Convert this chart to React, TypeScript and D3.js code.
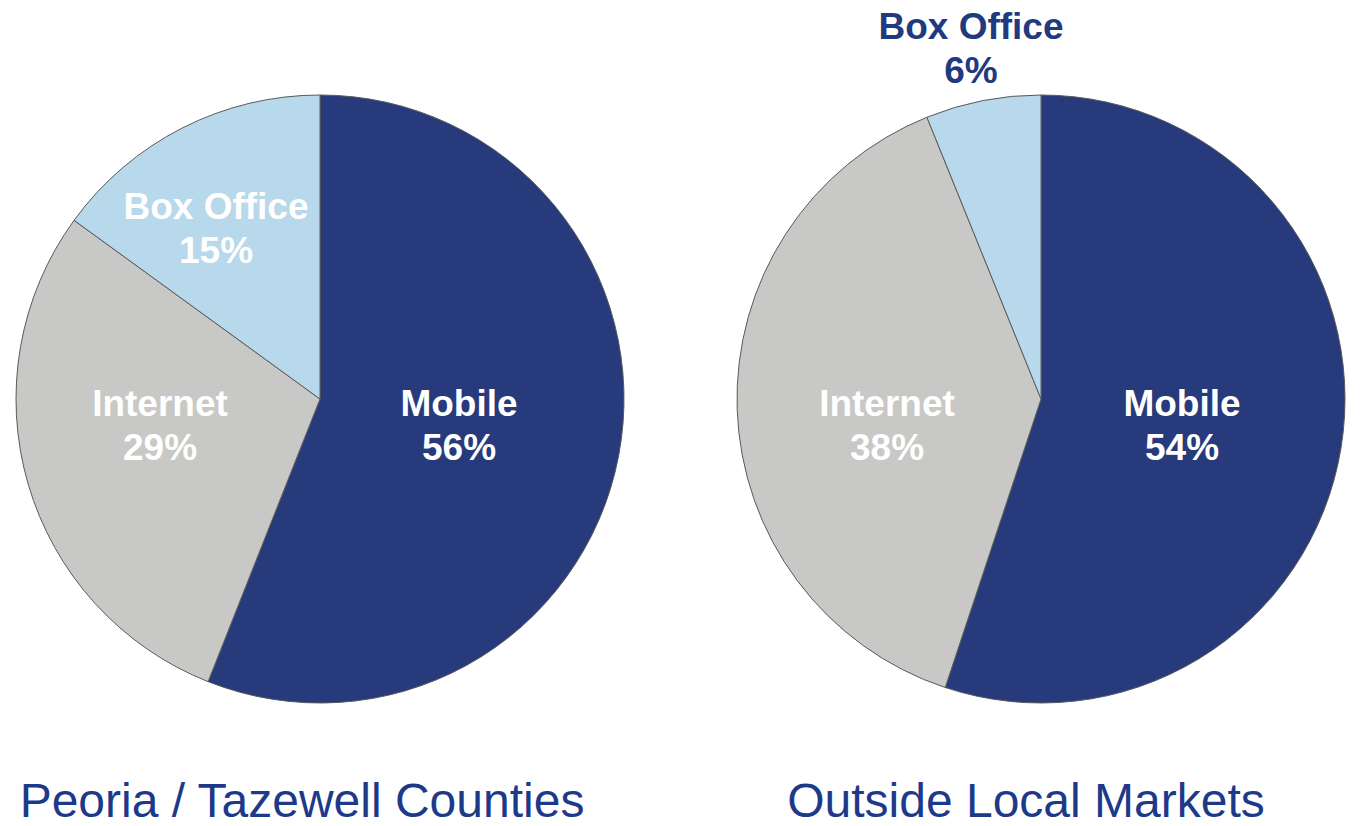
import React from "react";
import * as d3 from "d3";

const categories = ["Mobile", "Internet", "Box Office"];
const localValues = [56, 29, 15];
const outsideValues = [54, 38, 6];
const chartTitles = ["Peoria / Tazewell Counties", "Outside Local Markets"];

const COLORS: Record<string, string> = {
  Mobile: "#263a7c",
  Internet: "#c8c8c6",
  "Box Office": "#b8d8eb",
};

// label layout (relative to pie centre), and label colour
const LABEL_LAYOUT: Record<string, { dx: number; dy: number; fill: string }>[] = [
  {
    Mobile: { dx: 139, dy: 17, fill: "#ffffff" },
    Internet: { dx: -160, dy: 17, fill: "#ffffff" },
    "Box Office": { dx: -104, dy: -180, fill: "#ffffff" },
  },
  {
    Mobile: { dx: 141, dy: 17, fill: "#ffffff" },
    Internet: { dx: -154, dy: 17, fill: "#ffffff" },
    "Box Office": { dx: -70, dy: -360, fill: "#1f3a80" },
  },
];

const W = 1360;
const H = 826;
const R = 304;
const centers = [
  { x: 320, y: 399 },
  { x: 1041, y: 399 },
];
const titlePos = [
  { x: 302, y: 817 },
  { x: 1026, y: 817 },
];

function Pie({ values, idx }: { values: number[]; idx: number }) {
  const data = categories.map((c, i) => ({ cat: c, value: values[i] }));
  const pie = d3
    .pie<{ cat: string; value: number }>()
    .value((d) => d.value)
    .sort(null);
  const arc = d3
    .arc<d3.PieArcDatum<{ cat: string; value: number }>>()
    .innerRadius(0)
    .outerRadius(R);
  const arcs = pie(data);
  const c = centers[idx];
  return (
    <g transform={`translate(${c.x},${c.y})`}>
      {arcs.map((a) => (
        <path
          key={a.data.cat}
          d={arc(a) || ""}
          fill={COLORS[a.data.cat]}
          stroke="#5a5a5a"
          strokeWidth={1}
        />
      ))}
      {arcs.map((a) => {
        const l = LABEL_LAYOUT[idx][a.data.cat];
        return (
          <text
            key={"t" + a.data.cat}
            x={l.dx}
            y={l.dy}
            textAnchor="middle"
            fill={l.fill}
            fontFamily="Liberation Sans, Arial, sans-serif"
            fontWeight="bold"
            fontSize={37}
          >
            <tspan x={l.dx} dy={0}>
              {a.data.cat}
            </tspan>
            <tspan x={l.dx} dy={44}>
              {a.data.value}%
            </tspan>
          </text>
        );
      })}
    </g>
  );
}

export default function App() {
  return (
    <svg
      width={W}
      height={H}
      style={{ position: "absolute", left: 0, top: 0, background: "#fff" }}
    >
      <rect width={W} height={H} fill="#ffffff" />
      <Pie values={localValues} idx={0} />
      <Pie values={outsideValues} idx={1} />
      {chartTitles.map((t, i) => (
        <text
          key={t}
          x={titlePos[i].x}
          y={titlePos[i].y}
          textAnchor="middle"
          fill="#1d3a8a"
          fontFamily="Liberation Sans, Arial, sans-serif"
          fontSize={48}
        >
          {t}
        </text>
      ))}
    </svg>
  );
}
